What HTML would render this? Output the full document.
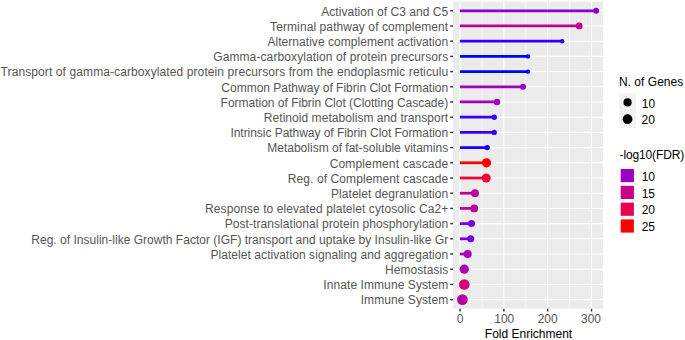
<!DOCTYPE html>
<html><head><meta charset="utf-8"><title>chart</title>
<style>html,body{margin:0;padding:0;background:#fff}svg{display:block}text{font-family:"Liberation Sans",sans-serif}</style></head><body>
<svg width="685" height="340" viewBox="0 0 685 340">
<rect width="685" height="340" fill="#fff"/>
<rect x="453.0" y="1.65" width="150.0" height="307.10" fill="#EBEBEB"/>
<line x1="481.96" x2="481.96" y1="1.65" y2="308.75" stroke="#fff" stroke-width="0.55"/>
<line x1="525.78" x2="525.78" y1="1.65" y2="308.75" stroke="#fff" stroke-width="0.55"/>
<line x1="569.60" x2="569.60" y1="1.65" y2="308.75" stroke="#fff" stroke-width="0.55"/>
<line x1="460.05" x2="460.05" y1="1.65" y2="308.75" stroke="#fff" stroke-width="1.07"/>
<line x1="503.87" x2="503.87" y1="1.65" y2="308.75" stroke="#fff" stroke-width="1.07"/>
<line x1="547.69" x2="547.69" y1="1.65" y2="308.75" stroke="#fff" stroke-width="1.07"/>
<line x1="591.51" x2="591.51" y1="1.65" y2="308.75" stroke="#fff" stroke-width="1.07"/>
<line x1="453.0" x2="603.0" y1="10.77" y2="10.77" stroke="#fff" stroke-width="1.07"/>
<line x1="453.0" x2="603.0" y1="25.97" y2="25.97" stroke="#fff" stroke-width="1.07"/>
<line x1="453.0" x2="603.0" y1="41.18" y2="41.18" stroke="#fff" stroke-width="1.07"/>
<line x1="453.0" x2="603.0" y1="56.38" y2="56.38" stroke="#fff" stroke-width="1.07"/>
<line x1="453.0" x2="603.0" y1="71.58" y2="71.58" stroke="#fff" stroke-width="1.07"/>
<line x1="453.0" x2="603.0" y1="86.79" y2="86.79" stroke="#fff" stroke-width="1.07"/>
<line x1="453.0" x2="603.0" y1="101.99" y2="101.99" stroke="#fff" stroke-width="1.07"/>
<line x1="453.0" x2="603.0" y1="117.19" y2="117.19" stroke="#fff" stroke-width="1.07"/>
<line x1="453.0" x2="603.0" y1="132.40" y2="132.40" stroke="#fff" stroke-width="1.07"/>
<line x1="453.0" x2="603.0" y1="147.60" y2="147.60" stroke="#fff" stroke-width="1.07"/>
<line x1="453.0" x2="603.0" y1="162.80" y2="162.80" stroke="#fff" stroke-width="1.07"/>
<line x1="453.0" x2="603.0" y1="178.00" y2="178.00" stroke="#fff" stroke-width="1.07"/>
<line x1="453.0" x2="603.0" y1="193.21" y2="193.21" stroke="#fff" stroke-width="1.07"/>
<line x1="453.0" x2="603.0" y1="208.41" y2="208.41" stroke="#fff" stroke-width="1.07"/>
<line x1="453.0" x2="603.0" y1="223.61" y2="223.61" stroke="#fff" stroke-width="1.07"/>
<line x1="453.0" x2="603.0" y1="238.82" y2="238.82" stroke="#fff" stroke-width="1.07"/>
<line x1="453.0" x2="603.0" y1="254.02" y2="254.02" stroke="#fff" stroke-width="1.07"/>
<line x1="453.0" x2="603.0" y1="269.22" y2="269.22" stroke="#fff" stroke-width="1.07"/>
<line x1="453.0" x2="603.0" y1="284.43" y2="284.43" stroke="#fff" stroke-width="1.07"/>
<line x1="453.0" x2="603.0" y1="299.63" y2="299.63" stroke="#fff" stroke-width="1.07"/>
<line x1="459.90" x2="596.2" y1="10.77" y2="10.77" stroke="#8700D3" stroke-width="2.75"/>
<circle cx="596.2" cy="10.77" r="2.9" fill="#8700D3"/>
<line x1="459.90" x2="579.2" y1="25.97" y2="25.97" stroke="#C30092" stroke-width="2.75"/>
<circle cx="579.2" cy="25.97" r="3.4" fill="#C30092"/>
<line x1="459.90" x2="562.2" y1="41.18" y2="41.18" stroke="#3500F9" stroke-width="2.75"/>
<circle cx="562.2" cy="41.18" r="2.2" fill="#3500F9"/>
<line x1="459.90" x2="528.0" y1="56.38" y2="56.38" stroke="#0000FF" stroke-width="2.75"/>
<circle cx="528.0" cy="56.38" r="2.2" fill="#0000FF"/>
<line x1="459.90" x2="528.0" y1="71.58" y2="71.58" stroke="#0000FF" stroke-width="2.75"/>
<circle cx="528.0" cy="71.58" r="2.2" fill="#0000FF"/>
<line x1="459.90" x2="523.0" y1="86.79" y2="86.79" stroke="#9F00BE" stroke-width="2.75"/>
<circle cx="523.0" cy="86.79" r="3.0" fill="#9F00BE"/>
<line x1="459.90" x2="497.0" y1="101.99" y2="101.99" stroke="#9F00BE" stroke-width="2.75"/>
<circle cx="497.0" cy="101.99" r="3.2" fill="#9F00BE"/>
<line x1="459.90" x2="494.2" y1="117.19" y2="117.19" stroke="#3500F9" stroke-width="2.75"/>
<circle cx="494.2" cy="117.19" r="2.7" fill="#3500F9"/>
<line x1="459.90" x2="494.2" y1="132.40" y2="132.40" stroke="#3500F9" stroke-width="2.75"/>
<circle cx="494.2" cy="132.40" r="2.7" fill="#3500F9"/>
<line x1="459.90" x2="487.2" y1="147.60" y2="147.60" stroke="#1700FE" stroke-width="2.75"/>
<circle cx="487.2" cy="147.60" r="2.7" fill="#1700FE"/>
<line x1="459.90" x2="486.5" y1="162.80" y2="162.80" stroke="#FF0000" stroke-width="2.75"/>
<circle cx="486.5" cy="162.80" r="4.6" fill="#FF0000"/>
<line x1="459.90" x2="486.2" y1="178.00" y2="178.00" stroke="#F30035" stroke-width="2.75"/>
<circle cx="486.2" cy="178.00" r="4.5" fill="#F30035"/>
<line x1="459.90" x2="475.0" y1="193.21" y2="193.21" stroke="#BB009D" stroke-width="2.75"/>
<circle cx="475.0" cy="193.21" r="3.9" fill="#BB009D"/>
<line x1="459.90" x2="474.2" y1="208.41" y2="208.41" stroke="#BA009F" stroke-width="2.75"/>
<circle cx="474.2" cy="208.41" r="3.9" fill="#BA009F"/>
<line x1="459.90" x2="471.5" y1="223.61" y2="223.61" stroke="#7900DD" stroke-width="2.75"/>
<circle cx="471.5" cy="223.61" r="3.5" fill="#7900DD"/>
<line x1="459.90" x2="470.7" y1="238.82" y2="238.82" stroke="#7500DF" stroke-width="2.75"/>
<circle cx="470.7" cy="238.82" r="3.5" fill="#7500DF"/>
<line x1="459.90" x2="467.7" y1="254.02" y2="254.02" stroke="#A800B4" stroke-width="2.75"/>
<circle cx="467.7" cy="254.02" r="4.0" fill="#A800B4"/>
<line x1="459.90" x2="464.3" y1="269.22" y2="269.22" stroke="#AE00AD" stroke-width="2.75"/>
<circle cx="464.3" cy="269.22" r="4.6" fill="#AE00AD"/>
<line x1="459.90" x2="464.3" y1="284.43" y2="284.43" stroke="#D60074" stroke-width="2.75"/>
<circle cx="464.3" cy="284.43" r="5.3" fill="#D60074"/>
<line x1="459.90" x2="462.4" y1="299.63" y2="299.63" stroke="#B600A4" stroke-width="2.75"/>
<circle cx="462.4" cy="299.63" r="5.35" fill="#B600A4"/>
<line x1="450.25" x2="453.0" y1="10.77" y2="10.77" stroke="#333" stroke-width="1.45"/>
<text x="321.30" y="15.52" font-size="12" fill="#555555" textLength="126.90" lengthAdjust="spacing">Activation of C3 and C5</text>
<line x1="450.25" x2="453.0" y1="25.97" y2="25.97" stroke="#333" stroke-width="1.45"/>
<text x="270.10" y="30.72" font-size="12" fill="#555555" textLength="178.10" lengthAdjust="spacing">Terminal pathway of complement</text>
<line x1="450.25" x2="453.0" y1="41.18" y2="41.18" stroke="#333" stroke-width="1.45"/>
<text x="267.45" y="45.93" font-size="12" fill="#555555" textLength="180.75" lengthAdjust="spacing">Alternative complement activation</text>
<line x1="450.25" x2="453.0" y1="56.38" y2="56.38" stroke="#333" stroke-width="1.45"/>
<text x="213.20" y="61.13" font-size="12" fill="#555555" textLength="235.00" lengthAdjust="spacing">Gamma-carboxylation of protein precursors</text>
<line x1="450.25" x2="453.0" y1="71.58" y2="71.58" stroke="#333" stroke-width="1.45"/>
<text x="0.60" y="76.33" font-size="12" fill="#555555" textLength="447.60" lengthAdjust="spacing">Transport of gamma-carboxylated protein precursors from the endoplasmic reticulu</text>
<line x1="450.25" x2="453.0" y1="86.79" y2="86.79" stroke="#333" stroke-width="1.45"/>
<text x="221.30" y="91.54" font-size="12" fill="#555555" textLength="226.90" lengthAdjust="spacing">Common Pathway of Fibrin Clot Formation</text>
<line x1="450.25" x2="453.0" y1="101.99" y2="101.99" stroke="#333" stroke-width="1.45"/>
<text x="220.60" y="106.74" font-size="12" fill="#555555" textLength="227.60" lengthAdjust="spacing">Formation of Fibrin Clot (Clotting Cascade)</text>
<line x1="450.25" x2="453.0" y1="117.19" y2="117.19" stroke="#333" stroke-width="1.45"/>
<text x="263.80" y="121.94" font-size="12" fill="#555555" textLength="184.40" lengthAdjust="spacing">Retinoid metabolism and transport</text>
<line x1="450.25" x2="453.0" y1="132.40" y2="132.40" stroke="#333" stroke-width="1.45"/>
<text x="230.40" y="137.15" font-size="12" fill="#555555" textLength="217.80" lengthAdjust="spacing">Intrinsic Pathway of Fibrin Clot Formation</text>
<line x1="450.25" x2="453.0" y1="147.60" y2="147.60" stroke="#333" stroke-width="1.45"/>
<text x="267.20" y="152.35" font-size="12" fill="#555555" textLength="181.00" lengthAdjust="spacing">Metabolism of fat-soluble vitamins</text>
<line x1="450.25" x2="453.0" y1="162.80" y2="162.80" stroke="#333" stroke-width="1.45"/>
<text x="329.70" y="167.55" font-size="12" fill="#555555" textLength="118.50" lengthAdjust="spacing">Complement cascade</text>
<line x1="450.25" x2="453.0" y1="178.00" y2="178.00" stroke="#333" stroke-width="1.45"/>
<text x="287.80" y="182.75" font-size="12" fill="#555555" textLength="160.40" lengthAdjust="spacing">Reg. of Complement cascade</text>
<line x1="450.25" x2="453.0" y1="193.21" y2="193.21" stroke="#333" stroke-width="1.45"/>
<text x="331.00" y="197.96" font-size="12" fill="#555555" textLength="117.20" lengthAdjust="spacing">Platelet degranulation</text>
<line x1="450.25" x2="453.0" y1="208.41" y2="208.41" stroke="#333" stroke-width="1.45"/>
<text x="205.10" y="213.16" font-size="12" fill="#555555" textLength="243.10" lengthAdjust="spacing">Response to elevated platelet cytosolic Ca2+</text>
<line x1="450.25" x2="453.0" y1="223.61" y2="223.61" stroke="#333" stroke-width="1.45"/>
<text x="224.70" y="228.36" font-size="12" fill="#555555" textLength="223.50" lengthAdjust="spacing">Post-translational protein phosphorylation</text>
<line x1="450.25" x2="453.0" y1="238.82" y2="238.82" stroke="#333" stroke-width="1.45"/>
<text x="31.30" y="243.57" font-size="12" fill="#555555" textLength="416.90" lengthAdjust="spacing">Reg. of Insulin-like Growth Factor (IGF) transport and uptake by Insulin-like Gr</text>
<line x1="450.25" x2="453.0" y1="254.02" y2="254.02" stroke="#333" stroke-width="1.45"/>
<text x="210.40" y="258.77" font-size="12" fill="#555555" textLength="237.80" lengthAdjust="spacing">Platelet activation signaling and aggregation</text>
<line x1="450.25" x2="453.0" y1="269.22" y2="269.22" stroke="#333" stroke-width="1.45"/>
<text x="385.10" y="273.97" font-size="12" fill="#555555" textLength="63.10" lengthAdjust="spacing">Hemostasis</text>
<line x1="450.25" x2="453.0" y1="284.43" y2="284.43" stroke="#333" stroke-width="1.45"/>
<text x="323.30" y="289.18" font-size="12" fill="#555555" textLength="124.90" lengthAdjust="spacing">Innate Immune System</text>
<line x1="450.25" x2="453.0" y1="299.63" y2="299.63" stroke="#333" stroke-width="1.45"/>
<text x="360.70" y="304.38" font-size="12" fill="#555555" textLength="87.50" lengthAdjust="spacing">Immune System</text>
<line x1="460.05" x2="460.05" y1="308.75" y2="311.5" stroke="#333" stroke-width="1.45"/>
<text x="460.05" y="322.8" font-size="12" fill="#555555" text-anchor="middle">0</text>
<line x1="503.87" x2="503.87" y1="308.75" y2="311.5" stroke="#333" stroke-width="1.45"/>
<text x="504.27" y="322.8" font-size="12" fill="#555555" text-anchor="middle">100</text>
<line x1="547.69" x2="547.69" y1="308.75" y2="311.5" stroke="#333" stroke-width="1.45"/>
<text x="547.69" y="322.8" font-size="12" fill="#555555" text-anchor="middle">200</text>
<line x1="591.51" x2="591.51" y1="308.75" y2="311.5" stroke="#333" stroke-width="1.45"/>
<text x="591.01" y="322.8" font-size="12" fill="#555555" text-anchor="middle">300</text>
<text x="528.5" y="337.8" font-size="12" fill="#000" text-anchor="middle">Fold Enrichment</text>
<text x="618.9" y="86.3" font-size="12" fill="#000" textLength="64.4" lengthAdjust="spacing">N. of Genes</text>
<rect x="619.25" y="93.3" width="16.7" height="34.7" fill="#F2F2F2"/>
<circle cx="627.55" cy="102.4" r="4.1" fill="#000"/>
<circle cx="627.55" cy="119.2" r="4.85" fill="#000"/>
<text x="641.8" y="107.8" font-size="12" fill="#000">10</text>
<text x="641.6" y="123.8" font-size="12" fill="#000">20</text>
<text x="619.6" y="159.1" font-size="12" fill="#000" textLength="64.6" lengthAdjust="spacing">-log10(FDR)</text>
<rect x="620.7" y="169.00" width="13.2" height="13.2" fill="#9A00C3"/>
<text x="641.7" y="180.70" font-size="12" fill="#000">10</text>
<rect x="620.7" y="185.80" width="13.2" height="13.2" fill="#CA0088"/>
<text x="641.7" y="197.50" font-size="12" fill="#000">15</text>
<rect x="620.7" y="202.60" width="13.2" height="13.2" fill="#E80050"/>
<text x="641.7" y="214.30" font-size="12" fill="#000">20</text>
<rect x="620.7" y="219.40" width="13.2" height="13.2" fill="#FF0000"/>
<text x="641.7" y="231.10" font-size="12" fill="#000">25</text>
</svg></body></html>
